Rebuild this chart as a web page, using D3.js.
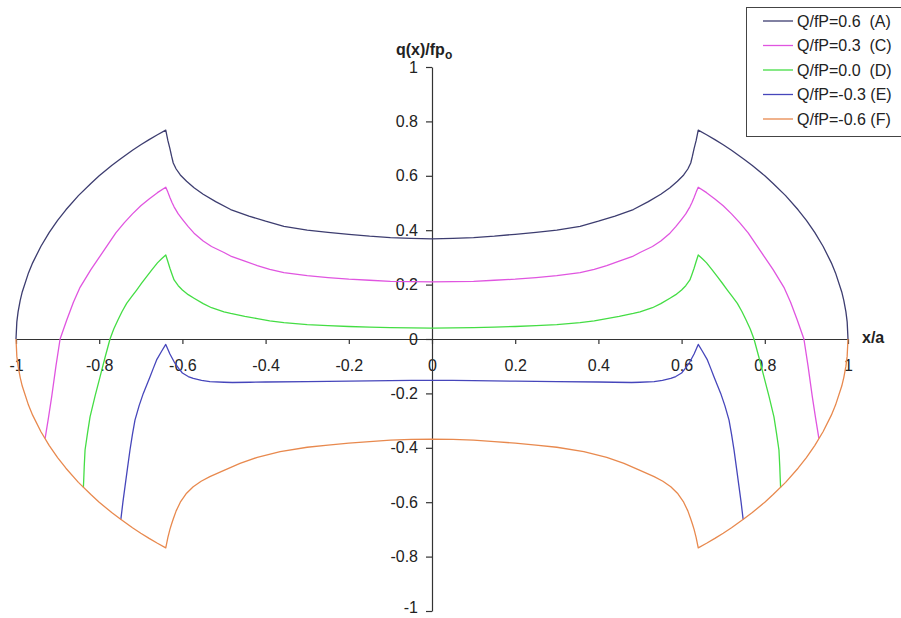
<!DOCTYPE html>
<html>
<head>
<meta charset="utf-8">
<script src="https://cdn.jsdelivr.net/npm/d3@7"></script>
<style>
  body { margin: 0; background: #fff; }
  text { font-family: "Liberation Sans", Arial, sans-serif; fill: #222; }
</style>
</head>
<body>
<svg id="chart" width="901" height="618"></svg>
<script>
// tick values
const xTicks = [-1, -0.8, -0.6, -0.4, -0.2, 0, 0.2, 0.4, 0.6, 0.8, 1];
const yTicks = [-1, -0.8, -0.6, -0.4, -0.2, 0, 0.2, 0.4, 0.6, 0.8, 1];

const seriesNames = ["Q/fP=0.6  (A)", "Q/fP=0.3  (C)", "Q/fP=0.0  (D)", "Q/fP=-0.3 (E)", "Q/fP=-0.6 (F)"];
const seriesColors = ["#3d3d70", "#e055e0", "#44dd44", "#4646bb", "#e8894e"];

// left half of every curve (x from the edge to 0); right half is its mirror
const xA = [-1, -0.998, -0.995, -0.99, -0.985, -0.97, -0.96, -0.94, -0.92, -0.9, -0.88, -0.85, -0.82, -0.8, -0.77, -0.75, -0.72, -0.7, -0.68, -0.66, -0.64,
            -0.635, -0.63, -0.626, -0.622, -0.615, -0.605, -0.59, -0.572, -0.55, -0.52, -0.484, -0.44, -0.4, -0.356, -0.3, -0.25, -0.2, -0.15, -0.1, -0.05, 0];
const yA = [0, 0.063, 0.1, 0.141, 0.173, 0.243, 0.28, 0.341, 0.392, 0.436, 0.475, 0.527, 0.572, 0.6, 0.638, 0.661, 0.694, 0.714, 0.733, 0.751, 0.768,
            0.73, 0.70, 0.672, 0.647, 0.625, 0.603, 0.58, 0.556, 0.532, 0.505, 0.476, 0.452, 0.433, 0.414, 0.40, 0.392, 0.385, 0.378, 0.373, 0.37, 0.368];

const xC = [-0.93, -0.922, -0.914, -0.904, -0.894, -0.878, -0.862, -0.846, -0.82, -0.8, -0.78, -0.76, -0.74, -0.72, -0.7, -0.68, -0.66, -0.64,
            -0.635, -0.63, -0.625, -0.62, -0.61, -0.6, -0.586, -0.572, -0.55, -0.53, -0.5, -0.484, -0.45, -0.42, -0.39, -0.356, -0.3, -0.25, -0.2, -0.15, -0.1, -0.05, 0];
const yC = [-0.365, -0.29, -0.21, -0.1, 0, 0.07, 0.135, 0.19, 0.255, 0.30, 0.345, 0.39, 0.427, 0.46, 0.49, 0.515, 0.538, 0.558,
            0.54, 0.52, 0.502, 0.486, 0.46, 0.44, 0.413, 0.389, 0.36, 0.34, 0.318, 0.305, 0.286, 0.27, 0.256, 0.244, 0.233, 0.226, 0.22, 0.216, 0.212, 0.211, 0.21];

const xD = [-0.838, -0.837, -0.836, -0.834, -0.828, -0.822, -0.81, -0.798, -0.786, -0.774, -0.765, -0.755, -0.745, -0.734, -0.722, -0.71, -0.698, -0.686, -0.673, -0.66, -0.65, -0.64,
            -0.635, -0.63, -0.625, -0.62, -0.61, -0.6, -0.586, -0.572, -0.55, -0.53, -0.5, -0.484, -0.45, -0.42, -0.39, -0.356, -0.3, -0.25, -0.2, -0.15, -0.1, -0.05, 0];
const yD = [-0.546, -0.51, -0.47, -0.408, -0.345, -0.286, -0.21, -0.139, -0.068, 0, 0.037, 0.07, 0.101, 0.131, 0.156, 0.18, 0.205, 0.229, 0.255, 0.28, 0.295, 0.309,
            0.285, 0.26, 0.238, 0.217, 0.196, 0.18, 0.163, 0.15, 0.13, 0.115, 0.1, 0.094, 0.083, 0.075, 0.067, 0.06, 0.053, 0.049, 0.046, 0.044, 0.042, 0.041, 0.04];

const xE = [-0.748, -0.743, -0.738, -0.732, -0.726, -0.72, -0.714, -0.704, -0.694, -0.686, -0.678, -0.67, -0.662, -0.65, -0.64,
            -0.63, -0.618, -0.608, -0.6, -0.586, -0.574, -0.554, -0.534, -0.5, -0.48, -0.4375, -0.4, -0.3, -0.2, -0.1, -0.05, 0];
const yE = [-0.664, -0.6, -0.543, -0.475, -0.408, -0.35, -0.298, -0.245, -0.2, -0.17, -0.14, -0.108, -0.077, -0.045, -0.02,
            -0.055, -0.089, -0.11, -0.125, -0.138, -0.145, -0.152, -0.157, -0.159, -0.16, -0.159, -0.158, -0.157, -0.155, -0.153, -0.152, -0.152];

const xF = [-1, -0.998, -0.995, -0.99, -0.985, -0.97, -0.96, -0.94, -0.92, -0.9, -0.88, -0.85, -0.82, -0.8, -0.77, -0.75, -0.72, -0.7, -0.68, -0.66, -0.64,
            -0.635, -0.63, -0.626, -0.622, -0.615, -0.605, -0.59, -0.574, -0.555, -0.534, -0.5, -0.4615, -0.42, -0.365, -0.3, -0.25, -0.2, -0.15, -0.1, -0.05, 0];
const yF = [0, -0.063, -0.1, -0.141, -0.173, -0.243, -0.28, -0.341, -0.392, -0.436, -0.475, -0.527, -0.572, -0.6, -0.638, -0.661, -0.694, -0.714, -0.733, -0.751, -0.768,
            -0.73, -0.70, -0.68, -0.662, -0.632, -0.6, -0.567, -0.543, -0.523, -0.506, -0.483, -0.457, -0.435, -0.414, -0.398, -0.39, -0.383, -0.377, -0.372, -0.369, -0.368];

const svg = d3.select("#chart");

const x = d3.scaleLinear().domain([-1, 1]).range([16, 848]);
const y = d3.scaleLinear().domain([-1, 1]).range([611, 67]);

// build full symmetric curve from the left half
function mirror(xs, ys) {
  let pts = xs.map((v, i) => [v, ys[i]]);
  let right = pts.slice(0, pts.length - 1).reverse().map(p => [-p[0], p[1]]);
  return pts.concat(right);
}

const curves = [mirror(xA, yA), mirror(xC, yC), mirror(xD, yD), mirror(xE, yE), mirror(xF, yF)];

// x axis through y = 0
svg.append("g")
  .attr("transform", `translate(0,${y(0)})`)
  .call(d3.axisBottom(x).tickValues(xTicks).tickSize(5).tickSizeOuter(0).tickPadding(16).tickFormat(d => String(d)));

// y axis through x = 0
svg.append("g")
  .attr("transform", `translate(${x(0)},0)`)
  .call(d3.axisLeft(y).tickValues(yTicks).tickSize(6).tickSizeOuter(0).tickPadding(8).tickFormat(d => String(d)))
  .selectAll(".tick text")
  .attr("dy", d => d === -1 ? "0.1em" : "0.32em");

svg.selectAll(".domain, .tick line").attr("stroke", "#333").attr("stroke-width", 1.2);
svg.selectAll(".tick text").style("font-size", "16px").attr("fill", "#222");

const line = d3.line().x(d => x(d[0])).y(d => y(d[1]));

svg.selectAll(".curve")
  .data(curves)
  .enter()
  .append("path")
  .attr("class", "curve")
  .attr("d", line)
  .attr("fill", "none")
  .attr("stroke", (d, i) => seriesColors[i])
  .attr("stroke-width", 1.3)
  .attr("stroke-linejoin", "round");

// axis titles
const yTitle = svg.append("text")
  .attr("x", 396)
  .attr("y", 55)
  .style("font-size", "16px")
  .style("font-weight", "bold");
yTitle.append("tspan").text("q(x)/fp");
yTitle.append("tspan").attr("dy", 4).style("font-size", "12px").text("o");

svg.append("text")
  .attr("x", 862)
  .attr("y", 343)
  .style("font-size", "16px")
  .style("font-weight", "bold")
  .text("x/a");

// legend
const legend = svg.append("g");
legend.append("rect")
  .attr("x", 746.5).attr("y", 7.5)
  .attr("width", 160).attr("height", 129)
  .attr("fill", "#fff")
  .attr("stroke", "#444");

const rows = legend.selectAll(".row")
  .data(seriesNames)
  .enter()
  .append("g")
  .attr("transform", (d, i) => `translate(0,${21 + i * 24.5})`);

rows.append("line")
  .attr("x1", 763).attr("x2", 793)
  .attr("stroke", (d, i) => seriesColors[i])
  .attr("stroke-width", 1.3);

rows.append("text")
  .attr("x", 797)
  .attr("dy", "0.35em")
  .style("font-size", "16px")
  .style("white-space", "pre")
  .text(d => d);
</script>
</body>
</html>
